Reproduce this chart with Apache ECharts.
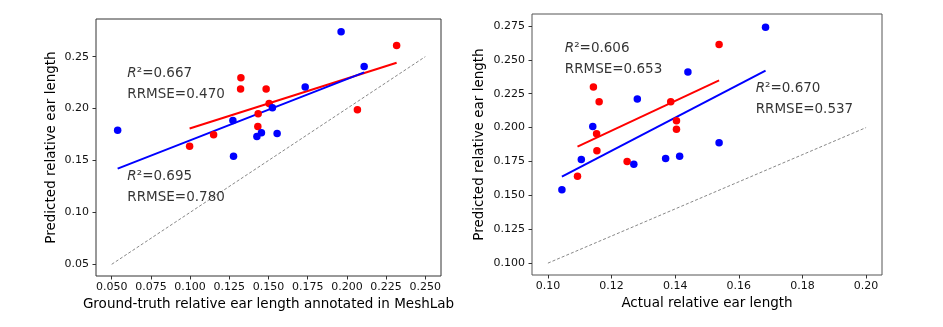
<!DOCTYPE html>
<html>
<head>
<meta charset="utf-8">
<script src="https://cdn.jsdelivr.net/npm/echarts@6/dist/echarts.min.js"></script>
<style>
  html, body { margin: 0; padding: 0; background: #ffffff; }
  #chart { width: 943px; height: 327px; }
</style>
</head>
<body>
<div id="chart"></div>
<script>
// Panel 1: ground truth (MeshLab) vs predicted relative ear length
const gtBlueX   = [0.0538, 0.1273, 0.1277, 0.1426, 0.1455, 0.1555, 0.1525, 0.1734, 0.1963, 0.2110];
const gtBlueY   = [0.1790, 0.1885, 0.1540, 0.1730, 0.1766, 0.1760, 0.2008, 0.2207, 0.2740, 0.2406];
const gtRedX    = [0.0997, 0.1150, 0.1324, 0.1322, 0.1485, 0.1504, 0.1434, 0.1432, 0.2067, 0.2317];
const gtRedY    = [0.1638, 0.1747, 0.2297, 0.2188, 0.2188, 0.2049, 0.1950, 0.1827, 0.1988, 0.2608];
const gtBlueFitX = [0.0538, 0.2110];
const gtBlueFitY = [0.1422, 0.2348];
const gtRedFitX  = [0.0997, 0.2317];
const gtRedFitY  = [0.1808, 0.2441];
const gtIdentity = [0.05, 0.25];
const gtXTicks = [0.05, 0.075, 0.1, 0.125, 0.15, 0.175, 0.2, 0.225, 0.25];
const gtYTicks = [0.05, 0.10, 0.15, 0.20, 0.25];
const gtStats = [
  { r2: '0.667', rrmse: '0.470' },
  { r2: '0.695', rrmse: '0.780' }
];

// Panel 2: actual vs predicted relative ear length
const actBlueX  = [0.1044, 0.1105, 0.1141, 0.1270, 0.1281, 0.1370, 0.1414, 0.1440, 0.1538, 0.1684];
const actBlueY  = [0.1542, 0.1764, 0.2008, 0.1729, 0.2210, 0.1771, 0.1788, 0.2410, 0.1888, 0.2740];
const actRedX   = [0.1093, 0.1143, 0.1161, 0.1153, 0.1154, 0.1249, 0.1386, 0.1404, 0.1404, 0.1538];
const actRedY   = [0.1641, 0.2299, 0.2191, 0.1954, 0.1828, 0.1749, 0.2191, 0.2050, 0.1988, 0.2612];
const actBlueFitX = [0.1044, 0.1684];
const actBlueFitY = [0.1638, 0.2420];
const actRedFitX  = [0.1093, 0.1538];
const actRedFitY  = [0.1860, 0.2348];
const actIdentity = [0.10, 0.20];
const actXTicks = [0.10, 0.12, 0.14, 0.16, 0.18, 0.20];
const actYTicks = [0.100, 0.125, 0.150, 0.175, 0.200, 0.225, 0.250, 0.275];
const actStats = [
  { r2: '0.606', rrmse: '0.653' },
  { r2: '0.670', rrmse: '0.537' }
];

const FONT = 'DejaVu Sans';
const pairs = (xs, ys) => xs.map((x, i) => [x, ys[i]]);

function axisCommon(ticks, digits, extra) {
  return Object.assign({
    type: 'value',
    scale: true,
    splitLine: { show: false },
    axisLine: { show: false },
    axisTick: { show: true, inside: false, length: 3.5, customValues: ticks,
                lineStyle: { color: '#333', width: 1 } },
    axisLabel: { show: true, customValues: ticks, color: '#111', fontFamily: FONT,
                 fontSize: 11, formatter: v => Number(v).toFixed(digits) },
    nameTextStyle: { fontFamily: FONT, fontSize: 13.5, color: '#000' }
  }, extra);
}

function statLabel(s) {
  return '{i|R}{n|\u00B2=' + s.r2 + '}\n{n|RRMSE=' + s.rrmse + '}';
}

function statSeries(idx, anchor, s) {
  return {
    type: 'scatter', xAxisIndex: idx, yAxisIndex: idx,
    symbolSize: 0, silent: true, z: 10,
    data: [anchor],
    label: {
      show: true, position: 'right', distance: 0,
      align: 'left', verticalAlign: 'middle',
      formatter: () => statLabel(s),
      rich: {
        i: { fontFamily: FONT, fontStyle: 'italic', fontSize: 13.5, color: '#000', lineHeight: 21 },
        n: { fontFamily: FONT, fontSize: 13.5, color: '#000', lineHeight: 21 }
      }
    }
  };
}

function lineSeries(idx, data, color, width, type, z) {
  return {
    type: 'line', xAxisIndex: idx, yAxisIndex: idx,
    data: data, showSymbol: false, silent: true, z: z,
    lineStyle: { color: color, width: width, type: type }
  };
}

function dotSeries(idx, data, color, z) {
  return {
    type: 'scatter', xAxisIndex: idx, yAxisIndex: idx,
    data: data, symbolSize: 7.5, z: z,
    itemStyle: { color: color, opacity: 1 }
  };
}

function tickLabel(ticks, digits, margin) {
  return { customValues: ticks, margin: margin, color: '#111', fontFamily: FONT,
           fontSize: 11, formatter: v => Number(v).toFixed(digits) };
}

const option = {
  animation: false,
  backgroundColor: '#ffffff',
  grid: [
    { left: 96, top: 19, width: 345, height: 257, show: true,
      borderColor: '#333', borderWidth: 1, backgroundColor: 'transparent' },
    { left: 532, top: 14, width: 350, height: 261, show: true,
      borderColor: '#555', borderWidth: 1, backgroundColor: 'transparent' }
  ],
  xAxis: [
    axisCommon(gtXTicks, 3, { gridIndex: 0, min: 0.04, max: 0.26,
      name: 'Ground-truth relative ear length annotated in MeshLab',
      nameLocation: 'middle', nameGap: 21,
      axisLabel: tickLabel(gtXTicks, 3, 6) }),
    axisCommon(actXTicks, 2, { gridIndex: 1, min: 0.095, max: 0.205,
      name: 'Actual relative ear length',
      nameLocation: 'middle', nameGap: 21,
      axisLabel: tickLabel(actXTicks, 2, 6) })
  ],
  yAxis: [
    axisCommon(gtYTicks, 2, { gridIndex: 0, min: 0.03875, max: 0.28625,
      name: 'Predicted relative ear length',
      nameLocation: 'middle', nameGap: 38,
      axisLabel: tickLabel(gtYTicks, 2, 7) }),
    axisCommon(actYTicks, 3, { gridIndex: 1, min: 0.09125, max: 0.28375,
      name: 'Predicted relative ear length',
      nameLocation: 'middle', nameGap: 46,
      axisLabel: tickLabel(actYTicks, 3, 7) })
  ],
  series: [
    // panel 1
    lineSeries(0, [[gtIdentity[0], gtIdentity[0]], [gtIdentity[1], gtIdentity[1]]], '#888888', 1, [3, 2], 1),
    lineSeries(0, pairs(gtRedFitX, gtRedFitY), '#ff0000', 2, 'solid', 2),
    lineSeries(0, pairs(gtBlueFitX, gtBlueFitY), '#0000ff', 2, 'solid', 3),
    dotSeries(0, pairs(gtRedX, gtRedY), '#ff0000', 4),
    dotSeries(0, pairs(gtBlueX, gtBlueY), '#0000ff', 5),
    statSeries(0, [0.06, 0.2241], gtStats[0]),
    statSeries(0, [0.06, 0.1241], gtStats[1]),
    // panel 2
    lineSeries(1, [[actIdentity[0], actIdentity[0]], [actIdentity[1], actIdentity[1]]], '#888888', 1, [3, 2], 1),
    lineSeries(1, pairs(actRedFitX, actRedFitY), '#ff0000', 2, 'solid', 2),
    lineSeries(1, pairs(actBlueFitX, actBlueFitY), '#0000ff', 2, 'solid', 3),
    dotSeries(1, pairs(actRedX, actRedY), '#ff0000', 4),
    dotSeries(1, pairs(actBlueX, actBlueY), '#0000ff', 5),
    statSeries(1, [0.1053, 0.2509], actStats[0]),
    statSeries(1, [0.1653, 0.2208], actStats[1])
  ]
};

const chart = echarts.init(document.getElementById('chart'), null, { renderer: 'canvas' });
chart.setOption(option);
</script>
</body>
</html>
